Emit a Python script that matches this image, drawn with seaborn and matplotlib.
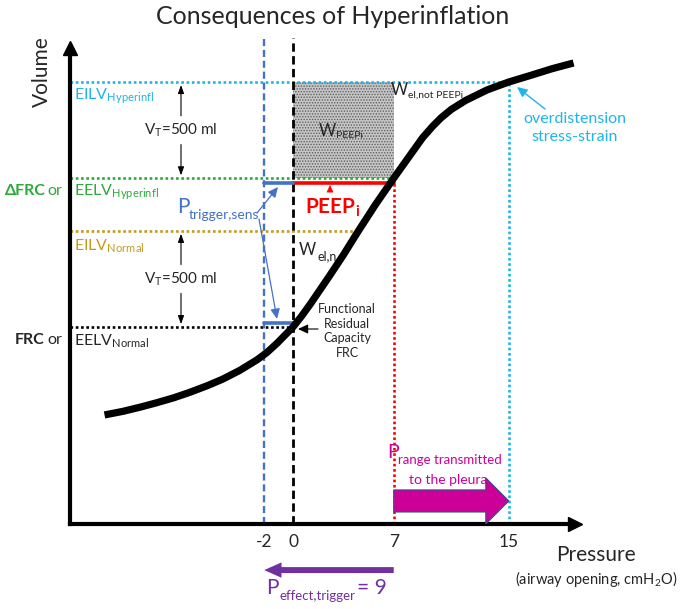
import matplotlib
matplotlib.use("Agg")
import matplotlib.pyplot as plt
from matplotlib.patches import Rectangle, FancyArrow
from matplotlib.transforms import IdentityTransform, offset_copy
import seaborn as sns

W, H = 685, 609

# pressure-volume curve (pressure in cmH2O, volume in ml relative to FRC)
curve_pressure = [-13.1, -11.8, -10.6, -9.5, -8.3, -7.2, -6.0, -4.9, -3.7, -2.5, -1.8, -1.1,
                  0.0, 0.6, 1.2, 2.5, 3.5, 4.5, 5.7, 7.0, 8.0, 9.0, 9.7, 10.3, 11.0,
                  12.0, 13.5, 15.0, 16.5, 18.0, 19.5]
curve_volume = [-458, -439, -417, -395, -369, -341, -307, -272, -226, -171, -132, -84,
                0, 57, 119, 262, 375, 495, 634, 775, 880, 985, 1045, 1090, 1133,
                1180, 1235, 1276, 1310, 1345, 1375]

# volume levels (ml)
v_frc = 0
v_eilv_normal = 500
v_eelv_hyper = 775
v_eilv_hyper = 1275

# pressure levels (cmH2O)
p_trigger = -2
p_zero = 0
p_peepi = 7
p_overdist = 15
p_eilv_normal_end = 4.5

pressure_ticks = [-2, 0, 7, 15]
tick_labels = ["-2", "0", "7", "15"]

CYAN = "#1FB4EC"
GREEN = "#2BAA3A"
GOLD = "#C49A1C"
BLUE = "#4472C4"
RED = "#FF0000"
MAGENTA = "#CC0099"
PURPLE = "#7030A0"

sns.set_style("white")
plt.rcParams["font.family"] = ["Lato", "DejaVu Sans"]
plt.rcParams["mathtext.fontset"] = "custom"
plt.rcParams["mathtext.rm"] = "Lato"
plt.rcParams["mathtext.it"] = "Lato:italic"
plt.rcParams["mathtext.bf"] = "Lato:bold"
plt.rcParams["hatch.linewidth"] = 0.7

fig = plt.figure(figsize=(W / 100, H / 100), dpi=100)
ax = fig.add_axes([70 / W, (H - 524) / H, (575 - 70) / W, (524 - 48) / H])
ax.set_xlim(-15.5, 19.6)
ax.set_ylim(-1026, 1453)

XMIN, YMIN = ax.get_xlim()[0], ax.get_ylim()[0]
DOT = (0, (1, 1))

# W_PEEPi box
ax.add_patch(Rectangle((p_zero, v_eelv_hyper), p_peepi - p_zero, v_eilv_hyper - v_eelv_hyper,
                       facecolor="#c6c6c6", edgecolor="#5e5e5e", hatch="......", lw=0, zorder=1))

# horizontal volume levels
ax.plot([XMIN, p_overdist], [v_eilv_hyper] * 2, color=CYAN, lw=1.9, ls=DOT, zorder=2)
ax.plot([XMIN, p_peepi], [v_eelv_hyper] * 2, color=GREEN, lw=1.9, ls=DOT, zorder=2)
ax.plot([XMIN, p_eilv_normal_end], [v_eilv_normal] * 2, color=GOLD, lw=1.9, ls=DOT, zorder=2)
ax.plot([XMIN, p_zero], [v_frc] * 2, color="black", lw=1.9, ls=DOT, zorder=2)

# vertical pressure levels
ax.plot([p_peepi] * 2, [YMIN, v_eelv_hyper], color=RED, lw=1.9, ls=DOT, zorder=2)
ax.plot([p_overdist] * 2, [YMIN, v_eilv_hyper], color=CYAN, lw=1.9, ls=DOT, zorder=2)
ax.plot([p_trigger] * 2, [YMIN, 1505], color=BLUE, lw=1.7, ls=(0, (3, 1.6)), zorder=2, clip_on=False)
ax.plot([p_zero] * 2, [YMIN, 1505], color="black", lw=2.0, ls=(0, (3, 1.6)), zorder=2, clip_on=False)

# PEEPi and trigger segments, drawn just beside the level lines
below = offset_copy(ax.transData, fig=fig, y=-5, units="dots")
above = offset_copy(ax.transData, fig=fig, y=4, units="dots")
ax.plot([p_zero, p_peepi], [v_eelv_hyper] * 2, color=RED, lw=2.6, transform=below, zorder=3)
ax.plot([p_trigger, p_zero], [v_eelv_hyper] * 2, color=BLUE, lw=2.6, transform=below, zorder=3)
ax.plot([p_trigger, p_zero], [v_frc] * 2, color=BLUE, lw=2.6, transform=above, zorder=3)

# curve
sns.lineplot(x=curve_pressure, y=curve_volume, sort=False, color="black", lw=5.2, ax=ax,
             zorder=4, solid_capstyle="butt", solid_joinstyle="round")

# block arrow: pressure range transmitted to pleura
ax.add_patch(FancyArrow(p_peepi, -906, p_overdist - p_peepi, 0, width=115, head_width=240,
                        head_length=1.6, length_includes_head=True, fc=MAGENTA, ec="#2F528F",
                        lw=0.8, zorder=5))
# effective trigger pressure arrow
ax.add_patch(FancyArrow(p_peepi, -1266, p_trigger - p_peepi, 0, width=31, head_width=80,
                        head_length=1.2, length_includes_head=True, fc=PURPLE, ec=PURPLE,
                        lw=0, zorder=5, clip_on=False))

# axes
sns.despine(ax=ax)
for side in ["left", "bottom"]:
    ax.spines[side].set_linewidth(3)
    ax.spines[side].set_color("black")
ax.plot(1, 0, ">k", ms=10, transform=ax.transAxes, clip_on=False)
ax.plot(0, 1, "^k", ms=10, transform=ax.transAxes, clip_on=False)
ax.set_xticks(pressure_ticks, labels=tick_labels)
ax.set_yticks([])
ax.tick_params(axis="x", length=0, pad=7, labelsize=12.5)
ax.set_xlabel("")
ax.set_ylabel("")


def label(px, py, s, **kw):
    kw.setdefault("va", "center")
    fig.text(px, H - py, s, transform=IdentityTransform(), **kw)


def arrow(x0, y0, x1, y1, color="black", lw=0.8, hw=4):
    ax.annotate("", xy=(x1, H - y1), xycoords="figure pixels", xytext=(x0, H - y0),
                textcoords="figure pixels",
                arrowprops=dict(arrowstyle=f"-|>,head_length={hw * 0.15},head_width={hw * 0.07}",
                                color=color, lw=lw, shrinkA=0, shrinkB=0))


label(333, 16, "Consequences of Hyperinflation", fontsize=18, ha="center")
label(42, 72, "Volume", fontsize=15, ha="center", rotation=90)
label(596, 555, "Pressure", fontsize=15, ha="center")
label(596, 579, r"(airway opening, cmH$_{\mathrm{2}}$O)", fontsize=10.5, ha="center")

label(74, 96, r"EILV$_{\mathrm{Hyperinfl}}$", fontsize=11.5, color=CYAN)
label(5, 191, "ΔFRC", fontsize=11.5, color=GREEN, fontweight="bold")
label(47, 191, "or", fontsize=11.5, color=GREEN)
label(74, 192, r"EELV$_{\mathrm{Hyperinfl}}$", fontsize=11.5, color=GREEN)
label(74, 246, r"EILV$_{\mathrm{Normal}}$", fontsize=11.5, color=GOLD)
label(15, 340, "FRC", fontsize=11.5, fontweight="bold")
label(47, 340, "or", fontsize=11.5)
label(74, 341, r"EELV$_{\mathrm{Normal}}$", fontsize=11.5)

# tidal volume markers
for top, bottom in [(v_eilv_hyper, v_eelv_hyper), (v_eilv_normal, v_frc)]:
    mid = (top + bottom) / 2
    ax.annotate(r"V$_{\mathrm{T}}$=500 ml", xy=(181, mid), xycoords=("figure pixels", "data"),
                ha="center", va="center", fontsize=11)
    for tip, start in [(top, mid + 75), (bottom, mid - 75)]:
        ax.annotate("", xy=(181, tip), xycoords=("figure pixels", "data"),
                    xytext=(181, start), textcoords=("figure pixels", "data"),
                    arrowprops=dict(arrowstyle="-|>,head_length=0.5,head_width=0.18",
                                    color="black", lw=0.8, shrinkA=0, shrinkB=2))

label(177, 207, "P", fontsize=15, color=BLUE)
label(189, 215, "trigger,sens", fontsize=10, color=BLUE)
arrow(257, 213, 278, 187, color=BLUE, lw=0.9)
arrow(259, 219, 277, 319, color=BLUE, lw=0.9)

label(391, 90, "W", fontsize=12)
label(408, 95, "el,not PEEPi", fontsize=7.5)
label(319, 131, "W", fontsize=12)
label(336, 136, "PEEPi", fontsize=7.5)
label(305, 208, r"PEEP$_{\mathbf{i}}$", fontsize=15, color=RED, fontweight="bold")
arrow(330, 192, 330, 185, color=RED, lw=0.5, hw=3)
label(299, 250, "W", fontsize=12)
label(317, 256, "el,n", fontsize=9)

label(347, 331, "Functional\nResidual\nCapacity\nFRC", fontsize=9, ha="center",
      linespacing=1.25)
arrow(318, 329, 298, 329, lw=0.8)

label(575, 128, "overdistension\nstress-strain", fontsize=11.5, color=CYAN, ha="center",
      linespacing=1.3)
arrow(545, 109, 517, 87, color=CYAN, lw=1.0)

label(387, 452, "P", fontsize=14, color=MAGENTA)
label(398, 460, "range transmitted", fontsize=9.5, color=MAGENTA)
label(448, 480, "to the pleura", fontsize=10, color=MAGENTA, ha="center")

label(266, 588, "P", fontsize=15, color=PURPLE)
label(279, 596, "effect,trigger", fontsize=9.5, color=PURPLE)
label(357, 588, f"= {p_peepi - p_trigger}", fontsize=15, color=PURPLE)

fig.savefig("out.png", dpi=100)
